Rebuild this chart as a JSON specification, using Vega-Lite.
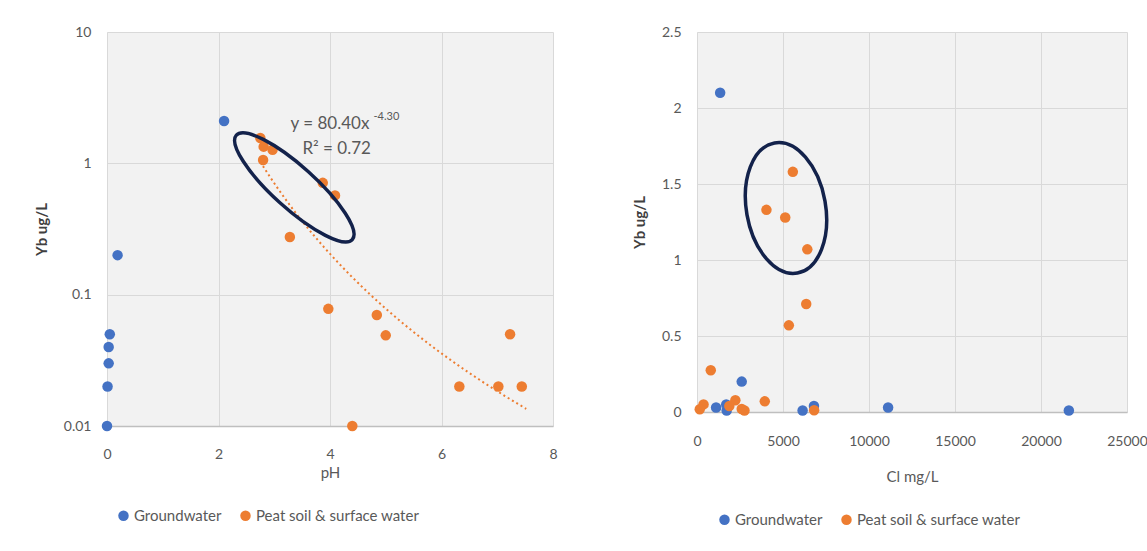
{
  "$schema": "https://vega.github.io/schema/vega-lite/v6.json",
  "padding": {"left": 34, "top": 25, "right": 0, "bottom": 0},
  "background": "white",
  "datasets": {
    "ph": [
      {"pH": 2.1, "Yb": 2.1, "type": "Groundwater"},
      {"pH": 0.19, "Yb": 0.2, "type": "Groundwater"},
      {"pH": 0.05, "Yb": 0.05, "type": "Groundwater"},
      {"pH": 0.03, "Yb": 0.04, "type": "Groundwater"},
      {"pH": 0.03, "Yb": 0.03, "type": "Groundwater"},
      {"pH": 0.01, "Yb": 0.02, "type": "Groundwater"},
      {"pH": 0.0, "Yb": 0.01, "type": "Groundwater"},
      {"pH": 2.75, "Yb": 1.56, "type": "Peat soil & surface water"},
      {"pH": 2.81, "Yb": 1.34, "type": "Peat soil & surface water"},
      {"pH": 2.97, "Yb": 1.27, "type": "Peat soil & surface water"},
      {"pH": 2.8, "Yb": 1.06, "type": "Peat soil & surface water"},
      {"pH": 3.87, "Yb": 0.71, "type": "Peat soil & surface water"},
      {"pH": 4.09, "Yb": 0.57, "type": "Peat soil & surface water"},
      {"pH": 3.28, "Yb": 0.275, "type": "Peat soil & surface water"},
      {"pH": 3.97, "Yb": 0.078, "type": "Peat soil & surface water"},
      {"pH": 4.84, "Yb": 0.07, "type": "Peat soil & surface water"},
      {"pH": 5.0, "Yb": 0.049, "type": "Peat soil & surface water"},
      {"pH": 7.23, "Yb": 0.05, "type": "Peat soil & surface water"},
      {"pH": 6.32, "Yb": 0.02, "type": "Peat soil & surface water"},
      {"pH": 7.02, "Yb": 0.02, "type": "Peat soil & surface water"},
      {"pH": 7.44, "Yb": 0.02, "type": "Peat soil & surface water"},
      {"pH": 4.4, "Yb": 0.01, "type": "Peat soil & surface water"}
    ],
    "cl": [
      {"Cl": 1346, "Yb": 2.1, "type": "Groundwater"},
      {"Cl": 2600, "Yb": 0.2, "type": "Groundwater"},
      {"Cl": 1110, "Yb": 0.03, "type": "Groundwater"},
      {"Cl": 1725, "Yb": 0.01, "type": "Groundwater"},
      {"Cl": 1700, "Yb": 0.05, "type": "Groundwater"},
      {"Cl": 6140, "Yb": 0.01, "type": "Groundwater"},
      {"Cl": 6800, "Yb": 0.04, "type": "Groundwater"},
      {"Cl": 11110, "Yb": 0.03, "type": "Groundwater"},
      {"Cl": 21620, "Yb": 0.01, "type": "Groundwater"},
      {"Cl": 5572, "Yb": 1.58, "type": "Peat soil & surface water"},
      {"Cl": 4037, "Yb": 1.33, "type": "Peat soil & surface water"},
      {"Cl": 5130, "Yb": 1.28, "type": "Peat soil & surface water"},
      {"Cl": 6413, "Yb": 1.07, "type": "Peat soil & surface water"},
      {"Cl": 6350, "Yb": 0.71, "type": "Peat soil & surface water"},
      {"Cl": 5341, "Yb": 0.57, "type": "Peat soil & surface water"},
      {"Cl": 800, "Yb": 0.275, "type": "Peat soil & surface water"},
      {"Cl": 3940, "Yb": 0.07, "type": "Peat soil & surface water"},
      {"Cl": 2230, "Yb": 0.077, "type": "Peat soil & surface water"},
      {"Cl": 1880, "Yb": 0.04, "type": "Peat soil & surface water"},
      {"Cl": 380, "Yb": 0.05, "type": "Peat soil & surface water"},
      {"Cl": 160, "Yb": 0.018, "type": "Peat soil & surface water"},
      {"Cl": 2760, "Yb": 0.01, "type": "Peat soil & surface water"},
      {"Cl": 2600, "Yb": 0.02, "type": "Peat soil & surface water"},
      {"Cl": 6810, "Yb": 0.012, "type": "Peat soil & surface water"}
    ]
  },
  "hconcat": [
    {
      "width": 446,
      "height": 394,
      "encoding": {
        "x": {"field": "pH", "type": "quantitative", "scale": {"domain": [0, 8], "nice": false, "zero": false, "padding": 0},
              "axis": {"values": [0, 2, 4, 6, 8], "format": "d", "title": "pH", "labelPadding": 21, "titlePadding": 4}},
        "y": {"field": "Yb", "type": "quantitative", "scale": {"type": "log", "domain": [0.01, 10], "nice": false, "padding": 0},
              "axis": {"values": [0.01, 0.1, 1, 10], "format": "~g", "title": "Yb ug/L"}}
      },
      "layer": [
        {
          "data": {"name": "ph"},
          "mark": {"type": "point", "filled": true, "size": 110, "opacity": 1},
          "encoding": {
            "color": {"field": "type", "type": "nominal",
                      "scale": {"domain": ["Groundwater", "Peat soil & surface water"], "range": ["#4472C4", "#ED7D31"]},
                      "legend": {"title": null, "padding": 9, "offset": 19}}
          }
        },
        {
          "data": {"name": "ph"},
          "transform": [
            {"filter": "datum.type === 'Peat soil & surface water'"},
            {"regression": "Yb", "on": "pH", "method": "pow", "extent": [2.75, 7.52]}
          ],
          "mark": {"type": "line", "color": "#ED7D31", "strokeWidth": 2, "strokeDash": [2, 3]},
          "encoding": {}
        },
        {
          "data": {"values": [{"pH": 3.36, "Yb": 0.656}]},
          "mark": {"type": "point", "filled": false, "stroke": "#13224b", "strokeWidth": 3.5, "opacity": 1,
                   "shape": "M 1 0 C 1 0.149 0.552 0.27 0 0.27 C -0.552 0.27 -1 0.149 -1 0 C -1 -0.149 -0.552 -0.27 0 -0.27 C 0.552 -0.27 1 -0.149 1 0 Z",
                   "size": 24336, "angle": 42},
          "encoding": {}
        },
        {
          "data": {"values": [
            {"pH": 4.0, "Yb": 1.98, "label": "y = 80.40x"},
            {"pH": 4.12, "Yb": 1.28, "label": "R² = 0.72"}
          ]},
          "mark": {"type": "text", "font": "Lato", "color": "#595959", "fontSize": 17, "align": "center", "baseline": "middle"},
          "encoding": {
            "text": {"field": "label"}
          }
        },
        {
          "data": {"values": [{"pH": 4.78, "Yb": 2.27, "label": "-4.30"}]},
          "mark": {"type": "text", "font": "Lato", "color": "#595959", "fontSize": 11, "align": "left", "baseline": "middle"},
          "encoding": {
            "text": {"field": "label"}
          }
        }
      ]
    },
    {
      "width": 430,
      "height": 380,
      "encoding": {
        "x": {"field": "Cl", "type": "quantitative", "scale": {"domain": [0, 25000], "nice": false, "padding": 0},
              "axis": {"values": [0, 5000, 10000, 15000, 20000, 25000], "format": "d", "title": "Cl mg/L", "labelPadding": 22, "titlePadding": 21}},
        "y": {"field": "Yb", "type": "quantitative", "scale": {"domain": [0, 2.5], "nice": false, "padding": 0},
              "axis": {"values": [0, 0.5, 1, 1.5, 2, 2.5], "format": ".1~f", "title": "Yb ug/L"}}
      },
      "layer": [
        {
          "data": {"name": "cl"},
          "mark": {"type": "point", "filled": true, "size": 110, "opacity": 1},
          "encoding": {
            "color": {"field": "type", "type": "nominal",
                      "scale": {"domain": ["Groundwater", "Peat soil & surface water"], "range": ["#4472C4", "#ED7D31"]},
                      "legend": {"title": null, "padding": 20, "offset": 8}}
          }
        },
        {
          "data": {"values": [{"Cl": 5174, "Yb": 1.342}]},
          "mark": {"type": "point", "filled": false, "stroke": "#13224b", "strokeWidth": 3.5, "opacity": 1,
                   "shape": "M 1 0 C 1 0.331 0.552 0.6 0 0.6 C -0.552 0.6 -1 0.331 -1 0 C -1 -0.331 -0.552 -0.6 0 -0.6 C 0.552 -0.6 1 -0.331 1 0 Z",
                   "size": 17424, "angle": 80},
          "encoding": {}
        }
      ]
    }
  ],
  "spacing": 74,
  "resolve": {"legend": {"color": "independent"}},
  "config": {
    "font": "Lato",
    "view": {"fill": "#F2F2F2", "stroke": null},
    "axis": {
      "labelFont": "Lato", "labelFontSize": 14, "labelColor": "#595959", "labelFlush": false,
      "titleFont": "Lato", "titleFontSize": 15, "titleColor": "#595959", "titleFontWeight": "normal",
      "ticks": false, "gridColor": "#D9D9D9", "gridWidth": 1, "domainColor": "#BFBFBF", "domainWidth": 1.5
    },
    "axisY": {"domain": false, "labelPadding": 16, "titlePadding": 14, "titleFontWeight": "bold", "titleColor": "#404040"},
    "legend": {
      "orient": "bottom", "direction": "horizontal", "symbolType": "circle", "symbolSize": 110,
      "labelFont": "Lato", "labelFontSize": 15, "labelColor": "#595959", "columnPadding": 16,
      "symbolStrokeWidth": 0, "labelOffset": 3, "labelLimit": 0
    }
  }
}
